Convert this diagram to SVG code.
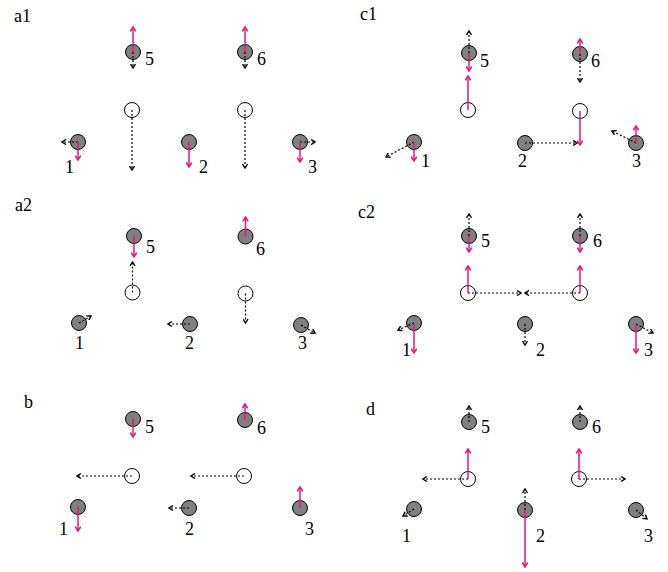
<svg xmlns="http://www.w3.org/2000/svg" width="668" height="572" viewBox="0 0 668 572">
<style>
.atom{fill:#808080;stroke:#000;stroke-width:1}
.vac{fill:#fff;stroke:#000;stroke-width:1}
.lbl{font-family:"Liberation Serif","Times New Roman",serif;font-size:18px;fill:#000}
.ttl{font-family:"Liberation Serif","Times New Roman",serif;font-size:18px;fill:#000}
.pk{stroke:#e8157f;stroke-width:1.5;fill:none;marker-end:url(#mp)}
.dk{stroke:#000;stroke-width:1.2;stroke-dasharray:2 2;fill:none;marker-end:url(#mk)}
</style>
<defs>
<marker id="mp" viewBox="0 0 6 6" refX="5" refY="3" markerWidth="6.5" markerHeight="6.5" markerUnits="userSpaceOnUse" orient="auto"><path d="M1,0.5 L5,3 L1,5.5" fill="none" stroke="#e8157f" stroke-width="1.4"/></marker>
<marker id="mk" viewBox="0 0 6 6" refX="5" refY="3" markerWidth="6" markerHeight="6" markerUnits="userSpaceOnUse" orient="auto"><path d="M1,0.5 L5,3 L1,5.5" fill="none" stroke="#000" stroke-width="1.4"/></marker>
</defs>
<rect width="668" height="572" fill="#fff"/>
<g id="titles">
<text class="ttl" x="14" y="22">a1</text>
<text class="ttl" x="360" y="20">c1</text>
<text class="ttl" x="15" y="211">a2</text>
<text class="ttl" x="358" y="218">c2</text>
<text class="ttl" x="24" y="408">b</text>
<text class="ttl" x="366" y="415">d</text>
</g>
<!-- panel a1 -->
<g id="a1-5"><circle class="atom" cx="133" cy="52" r="7.5"/><text class="lbl" x="145" y="65">5</text></g>
<g id="a1-6"><circle class="atom" cx="245" cy="52" r="7.5"/><text class="lbl" x="257" y="65">6</text></g>
<g id="a1-v5"><circle class="vac" cx="132" cy="110" r="7.5"/></g>
<g id="a1-v6"><circle class="vac" cx="245" cy="110" r="7.5"/></g>
<g id="a1-1"><circle class="atom" cx="78" cy="142" r="7.5"/><text class="lbl" x="65" y="173">1</text></g>
<g id="a1-2"><circle class="atom" cx="189" cy="142" r="7.5"/><text class="lbl" x="199" y="173">2</text></g>
<g id="a1-3"><circle class="atom" cx="300" cy="142" r="7.5"/><text class="lbl" x="308" y="173">3</text></g>
<!-- panel c1 -->
<g id="c1-5"><circle class="atom" cx="469" cy="53" r="7.5"/><text class="lbl" x="480" y="67">5</text></g>
<g id="c1-6"><circle class="atom" cx="580" cy="54" r="7.5"/><text class="lbl" x="591" y="67">6</text></g>
<g id="c1-v5"><circle class="vac" cx="468" cy="110" r="7.5"/></g>
<g id="c1-v6"><circle class="vac" cx="580" cy="111" r="7.5"/></g>
<g id="c1-1"><circle class="atom" cx="414" cy="142" r="7.5"/><text class="lbl" x="421" y="167">1</text></g>
<g id="c1-2"><circle class="atom" cx="525" cy="143" r="7.5"/><text class="lbl" x="518" y="167">2</text></g>
<g id="c1-3"><circle class="atom" cx="636" cy="143" r="7.5"/><text class="lbl" x="632" y="167">3</text></g>
<!-- panel a2 -->
<g id="a2-5"><circle class="atom" cx="134" cy="236" r="7.5"/><text class="lbl" x="146" y="253">5</text></g>
<g id="a2-6"><circle class="atom" cx="245.5" cy="236.5" r="7.5"/><text class="lbl" x="256" y="255">6</text></g>
<g id="a2-v5"><circle class="vac" cx="132.5" cy="292.5" r="7.5"/></g>
<g id="a2-v6"><circle class="vac" cx="245.5" cy="293.5" r="7.5"/></g>
<g id="a2-1"><circle class="atom" cx="79" cy="323" r="7.5"/><text class="lbl" x="75" y="349">1</text></g>
<g id="a2-2"><circle class="atom" cx="190" cy="324" r="7.5"/><text class="lbl" x="185" y="349">2</text></g>
<g id="a2-3"><circle class="atom" cx="301" cy="325" r="7.5"/><text class="lbl" x="298" y="349">3</text></g>
<!-- panel c2 -->
<g id="c2-5"><circle class="atom" cx="469" cy="236" r="7.5"/><text class="lbl" x="481" y="247">5</text></g>
<g id="c2-6"><circle class="atom" cx="580" cy="236" r="7.5"/><text class="lbl" x="593" y="247">6</text></g>
<g id="c2-v5"><circle class="vac" cx="468" cy="293" r="7.5"/></g>
<g id="c2-v6"><circle class="vac" cx="580" cy="293" r="7.5"/></g>
<g id="c2-1"><circle class="atom" cx="414" cy="323" r="7.5"/><text class="lbl" x="402" y="356">1</text></g>
<g id="c2-2"><circle class="atom" cx="525" cy="324" r="7.5"/><text class="lbl" x="536" y="356">2</text></g>
<g id="c2-3"><circle class="atom" cx="636" cy="324" r="7.5"/><text class="lbl" x="644" y="356">3</text></g>
<!-- panel b -->
<g id="b-5"><circle class="atom" cx="133" cy="419" r="7.5"/><text class="lbl" x="145" y="433">5</text></g>
<g id="b-6"><circle class="atom" cx="245" cy="420" r="7.5"/><text class="lbl" x="257" y="434">6</text></g>
<g id="b-v5"><circle class="vac" cx="132" cy="476" r="7.5"/></g>
<g id="b-v6"><circle class="vac" cx="244" cy="476" r="7.5"/></g>
<g id="b-1"><circle class="atom" cx="78" cy="507" r="7.5"/><text class="lbl" x="59" y="535">1</text></g>
<g id="b-2"><circle class="atom" cx="189" cy="508" r="7.5"/><text class="lbl" x="185" y="535">2</text></g>
<g id="b-3"><circle class="atom" cx="300" cy="508" r="7.5"/><text class="lbl" x="305" y="535">3</text></g>
<!-- panel d -->
<g id="d-5"><circle class="atom" cx="469" cy="422" r="7.5"/><text class="lbl" x="481" y="433">5</text></g>
<g id="d-6"><circle class="atom" cx="580" cy="422" r="7.5"/><text class="lbl" x="592" y="433">6</text></g>
<g id="d-v5"><circle class="vac" cx="468" cy="479" r="7.5"/></g>
<g id="d-v6"><circle class="vac" cx="579" cy="479" r="7.5"/></g>
<g id="d-1"><circle class="atom" cx="414" cy="509" r="7.5"/><text class="lbl" x="402" y="542">1</text></g>
<g id="d-2"><circle class="atom" cx="525" cy="510" r="7.5"/><text class="lbl" x="536" y="542">2</text></g>
<g id="d-3"><circle class="atom" cx="636" cy="510" r="7.5"/><text class="lbl" x="644" y="542">3</text></g>
<g id="connectors">
<!-- a1 -->
<line class="dk" x1="133" y1="52" x2="133" y2="68"/>
<line class="dk" x1="245" y1="52" x2="245" y2="68"/>
<line class="dk" x1="132" y1="110" x2="132" y2="170"/>
<line class="dk" x1="245" y1="110" x2="245" y2="168"/>
<line class="dk" x1="78" y1="142" x2="62" y2="142"/>
<line class="dk" x1="300" y1="142" x2="315" y2="142"/>
<line class="pk" x1="133" y1="52" x2="133" y2="27"/>
<line class="pk" x1="245" y1="52" x2="245" y2="27"/>
<line class="pk" x1="78" y1="142" x2="78" y2="160"/>
<line class="pk" x1="189" y1="142" x2="189" y2="167"/>
<line class="pk" x1="300" y1="142" x2="300" y2="162"/>
<!-- c1 -->
<line class="dk" x1="469" y1="53" x2="469" y2="31"/>
<line class="dk" x1="580" y1="54" x2="580" y2="82"/>
<line class="dk" x1="414" y1="142" x2="386" y2="157"/>
<line class="dk" x1="525" y1="143" x2="577" y2="143"/>
<line class="dk" x1="636" y1="143" x2="612" y2="131"/>
<line class="pk" x1="469" y1="53" x2="469" y2="71"/>
<line class="pk" x1="468" y1="110" x2="468" y2="76"/>
<line class="pk" x1="580" y1="54" x2="580" y2="39"/>
<line class="pk" x1="580" y1="111" x2="580" y2="145"/>
<line class="pk" x1="414" y1="142" x2="414" y2="161"/>
<line class="pk" x1="636" y1="143" x2="636" y2="126"/>
<!-- a2 -->
<line class="dk" x1="132.5" y1="292.5" x2="132.5" y2="262"/>
<line class="dk" x1="245.5" y1="293.5" x2="245.5" y2="323"/>
<line class="dk" x1="79" y1="323" x2="91" y2="316"/>
<line class="dk" x1="190" y1="324" x2="168" y2="324"/>
<line class="dk" x1="301" y1="325" x2="315" y2="333"/>
<line class="pk" x1="134" y1="236" x2="134" y2="257"/>
<line class="pk" x1="245.5" y1="236.5" x2="245.5" y2="217"/>
<!-- c2 -->
<line class="dk" x1="469" y1="236" x2="469" y2="214"/>
<line class="dk" x1="580" y1="236" x2="580" y2="214"/>
<line class="dk" x1="468" y1="293" x2="521" y2="293"/>
<line class="dk" x1="580" y1="293" x2="525" y2="293"/>
<line class="dk" x1="414" y1="323" x2="398" y2="330"/>
<line class="dk" x1="525" y1="324" x2="525" y2="345"/>
<line class="dk" x1="636" y1="324" x2="653" y2="333"/>
<line class="pk" x1="469" y1="236" x2="469" y2="252"/>
<line class="pk" x1="580" y1="236" x2="580" y2="252"/>
<line class="pk" x1="468" y1="293" x2="468" y2="266"/>
<line class="pk" x1="580" y1="293" x2="580" y2="266"/>
<line class="pk" x1="414" y1="323" x2="414" y2="353"/>
<line class="pk" x1="636" y1="324" x2="636" y2="353"/>
<!-- b -->
<line class="dk" x1="132" y1="476" x2="77" y2="476"/>
<line class="dk" x1="244" y1="476" x2="191" y2="476"/>
<line class="dk" x1="189" y1="508" x2="169" y2="508"/>
<line class="pk" x1="133" y1="419" x2="133" y2="437"/>
<line class="pk" x1="245" y1="420" x2="245" y2="404"/>
<line class="pk" x1="78" y1="507" x2="78" y2="531"/>
<line class="pk" x1="300" y1="508" x2="300" y2="487"/>
<!-- d -->
<line class="dk" x1="469" y1="422" x2="469" y2="406"/>
<line class="dk" x1="580" y1="422" x2="580" y2="406"/>
<line class="dk" x1="468" y1="479" x2="423" y2="479"/>
<line class="dk" x1="579" y1="479" x2="625" y2="479"/>
<line class="dk" x1="414" y1="509" x2="403" y2="516"/>
<line class="dk" x1="525" y1="510" x2="525" y2="489"/>
<line class="dk" x1="636" y1="510" x2="647" y2="519"/>
<line class="pk" x1="468" y1="479" x2="468" y2="449"/>
<line class="pk" x1="579" y1="479" x2="579" y2="449"/>
<line class="pk" x1="525" y1="510" x2="525" y2="567"/>
</g>
</svg>
